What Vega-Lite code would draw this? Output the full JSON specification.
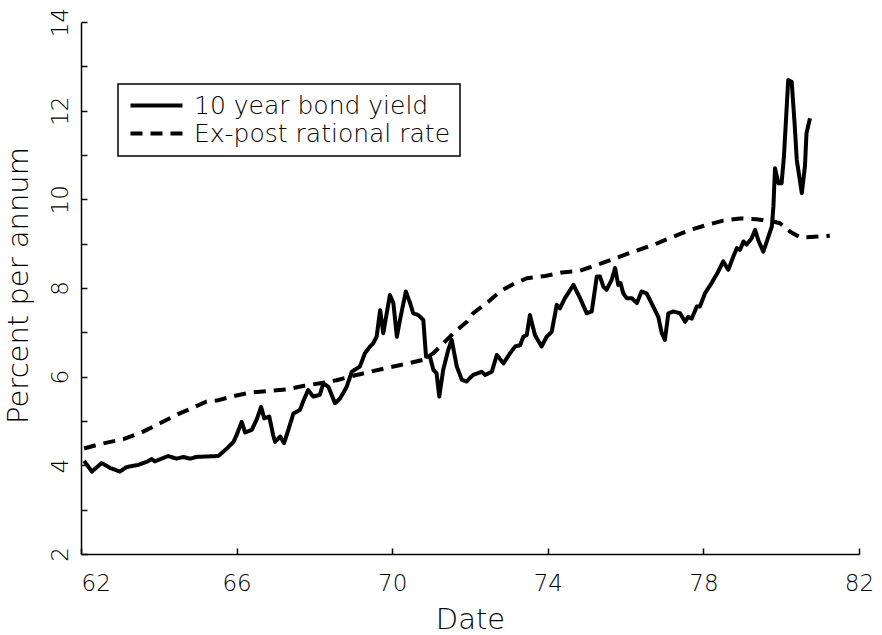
{
  "$schema": "https://vega.github.io/schema/vega-lite/v6.json",
  "autosize": {"type": "none"},
  "padding": {"left": 81, "top": 22, "right": 23, "bottom": 81},
  "width": 778,
  "height": 532,
  "background": "white",
  "config": {
    "view": {"stroke": null},
    "font": "DejaVu Sans",
    "axis": {
      "domainColor": "black", "domainWidth": 1.5,
      "tickColor": "black", "tickWidth": 1.5, "tickSize": -6,
      "labelColor": "black", "labelFont": "DejaVu Sans", "labelFontSize": 23, "labelFontWeight": 200,
      "labelFlush": false,
      "titleColor": "black", "titleFont": "DejaVu Sans", "titleFontSize": 29, "titleFontWeight": 200,
      "grid": false
    },
    "legend": {
      "labelFont": "DejaVu Sans", "labelFontSize": 25, "labelFontWeight": 200, "labelColor": "black",
      "strokeColor": "black", "strokeWidth": 1.5
    }
  },
  "data": {"values": [
    {"t": 62.08, "v": 4.10, "s": "10 year bond yield"},
    {"t": 62.28, "v": 3.86, "s": "10 year bond yield"},
    {"t": 62.53, "v": 4.05, "s": "10 year bond yield"},
    {"t": 62.75, "v": 3.94, "s": "10 year bond yield"},
    {"t": 63.00, "v": 3.86, "s": "10 year bond yield"},
    {"t": 63.17, "v": 3.96, "s": "10 year bond yield"},
    {"t": 63.47, "v": 4.01, "s": "10 year bond yield"},
    {"t": 63.69, "v": 4.08, "s": "10 year bond yield"},
    {"t": 63.82, "v": 4.14, "s": "10 year bond yield"},
    {"t": 63.90, "v": 4.09, "s": "10 year bond yield"},
    {"t": 64.24, "v": 4.21, "s": "10 year bond yield"},
    {"t": 64.46, "v": 4.15, "s": "10 year bond yield"},
    {"t": 64.63, "v": 4.19, "s": "10 year bond yield"},
    {"t": 64.80, "v": 4.15, "s": "10 year bond yield"},
    {"t": 64.97, "v": 4.19, "s": "10 year bond yield"},
    {"t": 65.24, "v": 4.20, "s": "10 year bond yield"},
    {"t": 65.53, "v": 4.21, "s": "10 year bond yield"},
    {"t": 65.75, "v": 4.38, "s": "10 year bond yield"},
    {"t": 65.92, "v": 4.53, "s": "10 year bond yield"},
    {"t": 66.00, "v": 4.68, "s": "10 year bond yield"},
    {"t": 66.13, "v": 4.98, "s": "10 year bond yield"},
    {"t": 66.22, "v": 4.74, "s": "10 year bond yield"},
    {"t": 66.39, "v": 4.80, "s": "10 year bond yield"},
    {"t": 66.52, "v": 5.04, "s": "10 year bond yield"},
    {"t": 66.63, "v": 5.32, "s": "10 year bond yield"},
    {"t": 66.71, "v": 5.06, "s": "10 year bond yield"},
    {"t": 66.84, "v": 5.10, "s": "10 year bond yield"},
    {"t": 66.94, "v": 4.68, "s": "10 year bond yield"},
    {"t": 66.99, "v": 4.53, "s": "10 year bond yield"},
    {"t": 67.12, "v": 4.65, "s": "10 year bond yield"},
    {"t": 67.22, "v": 4.50, "s": "10 year bond yield"},
    {"t": 67.33, "v": 4.80, "s": "10 year bond yield"},
    {"t": 67.46, "v": 5.17, "s": "10 year bond yield"},
    {"t": 67.63, "v": 5.25, "s": "10 year bond yield"},
    {"t": 67.71, "v": 5.44, "s": "10 year bond yield"},
    {"t": 67.84, "v": 5.70, "s": "10 year bond yield"},
    {"t": 67.97, "v": 5.55, "s": "10 year bond yield"},
    {"t": 68.14, "v": 5.59, "s": "10 year bond yield"},
    {"t": 68.23, "v": 5.85, "s": "10 year bond yield"},
    {"t": 68.36, "v": 5.77, "s": "10 year bond yield"},
    {"t": 68.53, "v": 5.40, "s": "10 year bond yield"},
    {"t": 68.66, "v": 5.51, "s": "10 year bond yield"},
    {"t": 68.83, "v": 5.77, "s": "10 year bond yield"},
    {"t": 68.96, "v": 6.11, "s": "10 year bond yield"},
    {"t": 69.17, "v": 6.23, "s": "10 year bond yield"},
    {"t": 69.30, "v": 6.53, "s": "10 year bond yield"},
    {"t": 69.43, "v": 6.68, "s": "10 year bond yield"},
    {"t": 69.51, "v": 6.75, "s": "10 year bond yield"},
    {"t": 69.60, "v": 6.90, "s": "10 year bond yield"},
    {"t": 69.69, "v": 7.50, "s": "10 year bond yield"},
    {"t": 69.77, "v": 6.98, "s": "10 year bond yield"},
    {"t": 69.94, "v": 7.84, "s": "10 year bond yield"},
    {"t": 70.03, "v": 7.66, "s": "10 year bond yield"},
    {"t": 70.12, "v": 6.90, "s": "10 year bond yield"},
    {"t": 70.20, "v": 7.28, "s": "10 year bond yield"},
    {"t": 70.35, "v": 7.92, "s": "10 year bond yield"},
    {"t": 70.46, "v": 7.66, "s": "10 year bond yield"},
    {"t": 70.54, "v": 7.43, "s": "10 year bond yield"},
    {"t": 70.67, "v": 7.39, "s": "10 year bond yield"},
    {"t": 70.80, "v": 7.28, "s": "10 year bond yield"},
    {"t": 70.87, "v": 6.45, "s": "10 year bond yield"},
    {"t": 70.97, "v": 6.45, "s": "10 year bond yield"},
    {"t": 71.06, "v": 6.15, "s": "10 year bond yield"},
    {"t": 71.14, "v": 6.08, "s": "10 year bond yield"},
    {"t": 71.21, "v": 5.55, "s": "10 year bond yield"},
    {"t": 71.31, "v": 6.15, "s": "10 year bond yield"},
    {"t": 71.44, "v": 6.60, "s": "10 year bond yield"},
    {"t": 71.53, "v": 6.83, "s": "10 year bond yield"},
    {"t": 71.66, "v": 6.23, "s": "10 year bond yield"},
    {"t": 71.79, "v": 5.93, "s": "10 year bond yield"},
    {"t": 71.91, "v": 5.89, "s": "10 year bond yield"},
    {"t": 72.08, "v": 6.04, "s": "10 year bond yield"},
    {"t": 72.21, "v": 6.08, "s": "10 year bond yield"},
    {"t": 72.30, "v": 6.11, "s": "10 year bond yield"},
    {"t": 72.39, "v": 6.04, "s": "10 year bond yield"},
    {"t": 72.56, "v": 6.11, "s": "10 year bond yield"},
    {"t": 72.69, "v": 6.49, "s": "10 year bond yield"},
    {"t": 72.86, "v": 6.30, "s": "10 year bond yield"},
    {"t": 73.03, "v": 6.53, "s": "10 year bond yield"},
    {"t": 73.16, "v": 6.68, "s": "10 year bond yield"},
    {"t": 73.29, "v": 6.71, "s": "10 year bond yield"},
    {"t": 73.37, "v": 6.90, "s": "10 year bond yield"},
    {"t": 73.46, "v": 6.94, "s": "10 year bond yield"},
    {"t": 73.54, "v": 7.39, "s": "10 year bond yield"},
    {"t": 73.67, "v": 6.94, "s": "10 year bond yield"},
    {"t": 73.84, "v": 6.68, "s": "10 year bond yield"},
    {"t": 73.97, "v": 6.90, "s": "10 year bond yield"},
    {"t": 74.10, "v": 7.01, "s": "10 year bond yield"},
    {"t": 74.23, "v": 7.62, "s": "10 year bond yield"},
    {"t": 74.31, "v": 7.54, "s": "10 year bond yield"},
    {"t": 74.44, "v": 7.77, "s": "10 year bond yield"},
    {"t": 74.66, "v": 8.07, "s": "10 year bond yield"},
    {"t": 74.83, "v": 7.77, "s": "10 year bond yield"},
    {"t": 75.00, "v": 7.43, "s": "10 year bond yield"},
    {"t": 75.13, "v": 7.47, "s": "10 year bond yield"},
    {"t": 75.26, "v": 8.26, "s": "10 year bond yield"},
    {"t": 75.34, "v": 8.26, "s": "10 year bond yield"},
    {"t": 75.43, "v": 8.03, "s": "10 year bond yield"},
    {"t": 75.51, "v": 7.96, "s": "10 year bond yield"},
    {"t": 75.64, "v": 8.18, "s": "10 year bond yield"},
    {"t": 75.73, "v": 8.45, "s": "10 year bond yield"},
    {"t": 75.81, "v": 8.07, "s": "10 year bond yield"},
    {"t": 75.87, "v": 8.11, "s": "10 year bond yield"},
    {"t": 75.94, "v": 7.88, "s": "10 year bond yield"},
    {"t": 76.03, "v": 7.77, "s": "10 year bond yield"},
    {"t": 76.16, "v": 7.77, "s": "10 year bond yield"},
    {"t": 76.29, "v": 7.66, "s": "10 year bond yield"},
    {"t": 76.41, "v": 7.92, "s": "10 year bond yield"},
    {"t": 76.54, "v": 7.88, "s": "10 year bond yield"},
    {"t": 76.71, "v": 7.58, "s": "10 year bond yield"},
    {"t": 76.84, "v": 7.35, "s": "10 year bond yield"},
    {"t": 76.93, "v": 6.98, "s": "10 year bond yield"},
    {"t": 77.01, "v": 6.83, "s": "10 year bond yield"},
    {"t": 77.10, "v": 7.43, "s": "10 year bond yield"},
    {"t": 77.23, "v": 7.47, "s": "10 year bond yield"},
    {"t": 77.40, "v": 7.43, "s": "10 year bond yield"},
    {"t": 77.53, "v": 7.24, "s": "10 year bond yield"},
    {"t": 77.61, "v": 7.35, "s": "10 year bond yield"},
    {"t": 77.70, "v": 7.31, "s": "10 year bond yield"},
    {"t": 77.83, "v": 7.58, "s": "10 year bond yield"},
    {"t": 77.91, "v": 7.58, "s": "10 year bond yield"},
    {"t": 78.04, "v": 7.88, "s": "10 year bond yield"},
    {"t": 78.21, "v": 8.11, "s": "10 year bond yield"},
    {"t": 78.38, "v": 8.37, "s": "10 year bond yield"},
    {"t": 78.51, "v": 8.60, "s": "10 year bond yield"},
    {"t": 78.64, "v": 8.41, "s": "10 year bond yield"},
    {"t": 78.77, "v": 8.71, "s": "10 year bond yield"},
    {"t": 78.86, "v": 8.90, "s": "10 year bond yield"},
    {"t": 78.94, "v": 8.86, "s": "10 year bond yield"},
    {"t": 79.03, "v": 9.05, "s": "10 year bond yield"},
    {"t": 79.11, "v": 8.98, "s": "10 year bond yield"},
    {"t": 79.24, "v": 9.12, "s": "10 year bond yield"},
    {"t": 79.33, "v": 9.31, "s": "10 year bond yield"},
    {"t": 79.41, "v": 9.08, "s": "10 year bond yield"},
    {"t": 79.54, "v": 8.82, "s": "10 year bond yield"},
    {"t": 79.63, "v": 9.05, "s": "10 year bond yield"},
    {"t": 79.76, "v": 9.39, "s": "10 year bond yield"},
    {"t": 79.80, "v": 9.84, "s": "10 year bond yield"},
    {"t": 79.84, "v": 10.70, "s": "10 year bond yield"},
    {"t": 79.93, "v": 10.36, "s": "10 year bond yield"},
    {"t": 80.01, "v": 10.36, "s": "10 year bond yield"},
    {"t": 80.07, "v": 10.96, "s": "10 year bond yield"},
    {"t": 80.18, "v": 12.69, "s": "10 year bond yield"},
    {"t": 80.27, "v": 12.65, "s": "10 year bond yield"},
    {"t": 80.35, "v": 11.64, "s": "10 year bond yield"},
    {"t": 80.40, "v": 10.89, "s": "10 year bond yield"},
    {"t": 80.53, "v": 10.14, "s": "10 year bond yield"},
    {"t": 80.61, "v": 10.74, "s": "10 year bond yield"},
    {"t": 80.65, "v": 11.49, "s": "10 year bond yield"},
    {"t": 80.74, "v": 11.83, "s": "10 year bond yield"},
    {"t": 62.08, "v": 4.38, "s": "Ex-post rational rate"},
    {"t": 62.49, "v": 4.48, "s": "Ex-post rational rate"},
    {"t": 63.09, "v": 4.59, "s": "Ex-post rational rate"},
    {"t": 63.60, "v": 4.76, "s": "Ex-post rational rate"},
    {"t": 64.03, "v": 4.95, "s": "Ex-post rational rate"},
    {"t": 64.46, "v": 5.14, "s": "Ex-post rational rate"},
    {"t": 64.93, "v": 5.32, "s": "Ex-post rational rate"},
    {"t": 65.23, "v": 5.44, "s": "Ex-post rational rate"},
    {"t": 65.49, "v": 5.46, "s": "Ex-post rational rate"},
    {"t": 65.92, "v": 5.56, "s": "Ex-post rational rate"},
    {"t": 66.34, "v": 5.64, "s": "Ex-post rational rate"},
    {"t": 66.86, "v": 5.68, "s": "Ex-post rational rate"},
    {"t": 67.29, "v": 5.71, "s": "Ex-post rational rate"},
    {"t": 67.71, "v": 5.79, "s": "Ex-post rational rate"},
    {"t": 68.14, "v": 5.85, "s": "Ex-post rational rate"},
    {"t": 68.57, "v": 5.92, "s": "Ex-post rational rate"},
    {"t": 69.00, "v": 6.02, "s": "Ex-post rational rate"},
    {"t": 69.43, "v": 6.11, "s": "Ex-post rational rate"},
    {"t": 69.94, "v": 6.21, "s": "Ex-post rational rate"},
    {"t": 70.37, "v": 6.29, "s": "Ex-post rational rate"},
    {"t": 70.80, "v": 6.38, "s": "Ex-post rational rate"},
    {"t": 71.06, "v": 6.53, "s": "Ex-post rational rate"},
    {"t": 71.31, "v": 6.75, "s": "Ex-post rational rate"},
    {"t": 71.61, "v": 7.01, "s": "Ex-post rational rate"},
    {"t": 71.92, "v": 7.24, "s": "Ex-post rational rate"},
    {"t": 72.08, "v": 7.43, "s": "Ex-post rational rate"},
    {"t": 72.47, "v": 7.69, "s": "Ex-post rational rate"},
    {"t": 72.77, "v": 7.92, "s": "Ex-post rational rate"},
    {"t": 73.16, "v": 8.11, "s": "Ex-post rational rate"},
    {"t": 73.46, "v": 8.22, "s": "Ex-post rational rate"},
    {"t": 73.93, "v": 8.27, "s": "Ex-post rational rate"},
    {"t": 74.36, "v": 8.35, "s": "Ex-post rational rate"},
    {"t": 74.83, "v": 8.39, "s": "Ex-post rational rate"},
    {"t": 75.26, "v": 8.52, "s": "Ex-post rational rate"},
    {"t": 75.73, "v": 8.67, "s": "Ex-post rational rate"},
    {"t": 76.20, "v": 8.82, "s": "Ex-post rational rate"},
    {"t": 76.71, "v": 8.97, "s": "Ex-post rational rate"},
    {"t": 77.23, "v": 9.16, "s": "Ex-post rational rate"},
    {"t": 77.66, "v": 9.31, "s": "Ex-post rational rate"},
    {"t": 78.08, "v": 9.42, "s": "Ex-post rational rate"},
    {"t": 78.51, "v": 9.52, "s": "Ex-post rational rate"},
    {"t": 78.94, "v": 9.57, "s": "Ex-post rational rate"},
    {"t": 79.37, "v": 9.55, "s": "Ex-post rational rate"},
    {"t": 79.80, "v": 9.50, "s": "Ex-post rational rate"},
    {"t": 79.97, "v": 9.46, "s": "Ex-post rational rate"},
    {"t": 80.23, "v": 9.27, "s": "Ex-post rational rate"},
    {"t": 80.49, "v": 9.14, "s": "Ex-post rational rate"},
    {"t": 80.74, "v": 9.15, "s": "Ex-post rational rate"},
    {"t": 81.25, "v": 9.18, "s": "Ex-post rational rate"}
  ]},
  "mark": {"type": "line", "color": "black", "strokeWidth": 4, "strokeJoin": "round", "strokeCap": "butt"},
  "encoding": {
    "x": {
      "field": "t", "type": "quantitative",
      "scale": {"domain": [62, 82], "nice": false, "zero": false},
      "axis": {
        "title": "Date", "values": [62, 66, 70, 74, 78, 82],
        "labelPadding": 24, "labelBaseline": "top",
        "labelAlign": {"condition": {"test": "datum.value == 62", "value": "left"}, "value": "center"},
        "titleBaseline": "alphabetic", "titleY": 74, "titleX": 389, "titleAnchor": null
      }
    },
    "y": {
      "field": "v", "type": "quantitative",
      "scale": {"domain": [2, 14], "nice": false, "zero": false},
      "axis": {
        "title": "Percent per annum",
        "values": [2, 3, 4, 5, 6, 7, 8, 9, 10, 11, 12, 13, 14],
        "labelExpr": "datum.value % 2 == 0 ? datum.label : ''",
        "labelAngle": -90, "labelAlign": "center", "labelBaseline": "alphabetic",
        "labelPadding": 20,
        "titleAngle": -90, "titleX": -63, "titleY": 263, "titleBaseline": "middle", "titleAlign": "center"
      }
    },
    "strokeDash": {
      "field": "s", "type": "nominal",
      "scale": {"domain": ["10 year bond yield", "Ex-post rational rate"], "range": [[1, 0], [12, 8]]},
      "legend": {
        "title": null, "orient": "none", "legendX": 37, "legendY": 62,
        "padding": 9,
        "symbolType": "M-4,0H4", "symbolSize": 169, "symbolStrokeWidth": 4, "symbolStrokeColor": "black",
        "symbolOffset": 17, "labelOffset": 25, "rowPadding": 2, "labelLimit": 600
      }
    }
  }
}
